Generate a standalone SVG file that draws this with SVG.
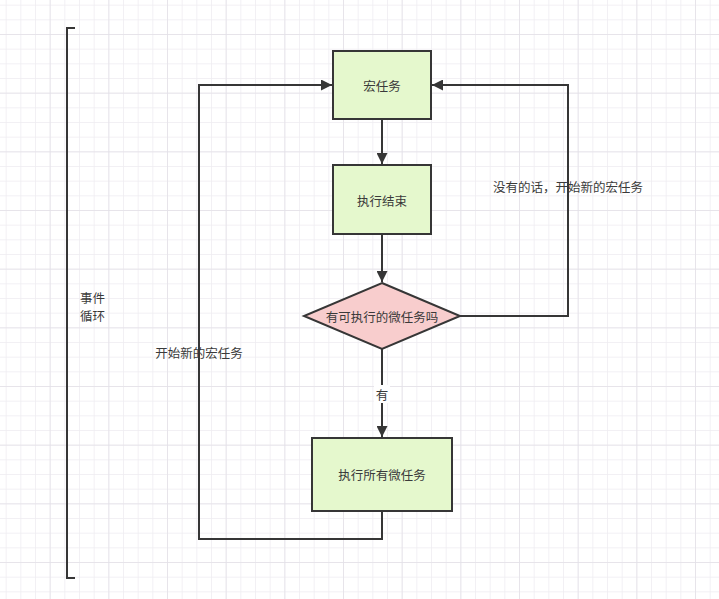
<svg xmlns="http://www.w3.org/2000/svg" width="719" height="599" viewBox="0 0 719 599">
<style>
  .node { stroke:#363636; stroke-width:2; }
  .box { fill:#e5f8cd; }
  .dia { fill:#f8cdcd; }
  .edge { fill:none; stroke:#363636; stroke-width:2; }
  text { font-family:"Noto Sans CJK SC","Noto Sans",sans-serif; font-size:12.5px; fill:#3a3a3a; }
  .c { text-anchor:middle; dominant-baseline:central; }
</style>
<defs>
  <pattern id="minor" patternUnits="userSpaceOnUse" x="49.667" y="34" width="14.667" height="14.667">
    <path d="M0,0 H14.667 M0,0 V14.667" fill="none" stroke="#eeecf1" stroke-width="1.5"/>
  </pattern>
  <pattern id="major" patternUnits="userSpaceOnUse" x="49.667" y="34" width="58.667" height="58.667">
    <path d="M0,0 H58.667 M0,0 V58.667" fill="none" stroke="#e3e1e8" stroke-width="1.5"/>
  </pattern>
  <marker id="arr" viewBox="0 0 10 10" refX="10" refY="5" markerWidth="6.5" markerHeight="5.5" markerUnits="strokeWidth" orient="auto">
    <path d="M0,0 L10,5 L0,10 Z" fill="#363636"/>
  </marker>
</defs>
<rect width="719" height="599" fill="#ffffff"/>
<rect width="719" height="599" fill="url(#minor)"/>
<rect width="719" height="599" fill="url(#major)"/>

<g id="bracket">
  <path class="edge" d="M75,28 H67 V578 H75"/>
  <text x="80" y="297" dominant-baseline="central">事件</text>
  <text x="80" y="315" dominant-baseline="central">循环</text>
</g>

<g id="connectors">
  <path class="edge" d="M382,119 V164" marker-end="url(#arr)"/>
  <path class="edge" d="M382,234 V282" marker-end="url(#arr)"/>
  <path class="edge" d="M382,349 V437" marker-end="url(#arr)"/>
  <rect x="374" y="385" width="16" height="18" fill="#ffffff"/>
  <text class="c" x="382" y="394">有</text>
  <path class="edge" d="M382,511 V539 H199 V85 H332" marker-end="url(#arr)"/>
  <text class="c" x="199" y="352">开始新的宏任务</text>
  <path class="edge" d="M460,316 H568 V85 H432" marker-end="url(#arr)"/>
  <text class="c" x="568" y="186">没有的话，开始新的宏任务</text>
</g>

<g id="macrotask">
  <rect class="node box" x="333" y="51" width="98" height="68"/>
  <text class="c" x="382" y="85">宏任务</text>
</g>
<g id="execEnd">
  <rect class="node box" x="333" y="165" width="98" height="69"/>
  <text class="c" x="382" y="200">执行结束</text>
</g>
<g id="hasMicro">
  <path class="node dia" d="M382,283 L460,316 L382,349 L304,316 Z"/>
  <text class="c" x="382" y="316">有可执行的微任务吗</text>
</g>
<g id="execMicro">
  <rect class="node box" x="312" y="438" width="140" height="73"/>
  <text class="c" x="382" y="474">执行所有微任务</text>
</g>
</svg>
